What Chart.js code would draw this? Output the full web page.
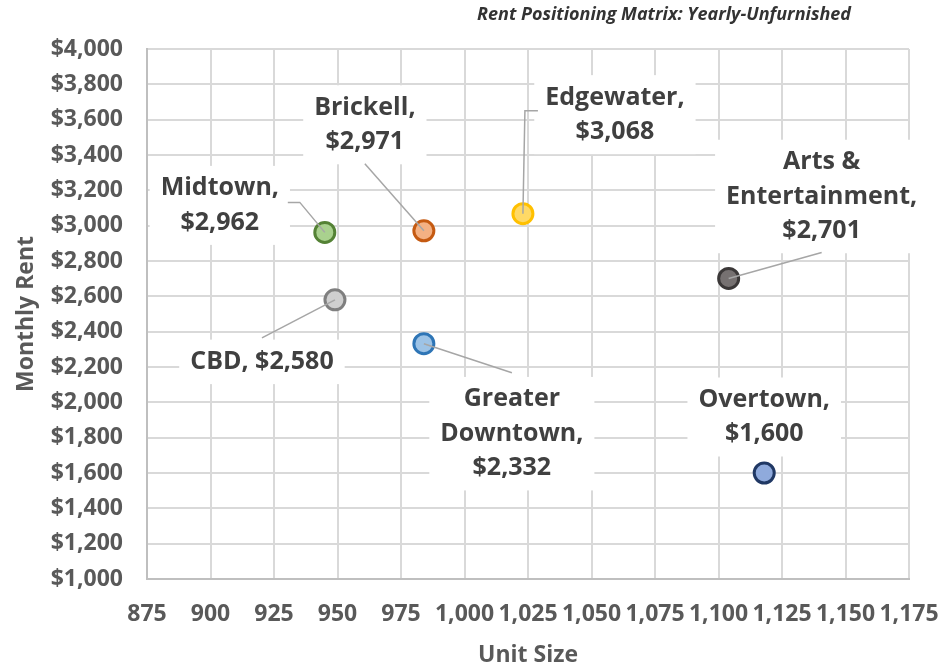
<!DOCTYPE html>
<html>
<head>
<meta charset="utf-8">
<script src="https://cdn.jsdelivr.net/npm/chart.js@4/dist/chart.umd.min.js"></script>
<style>
html, body { margin: 0; padding: 0; background: #fff; }
#wrap { width: 951px; height: 670px; }
</style>
</head>
<body>
<div id="wrap"><canvas id="myChart" width="951" height="670"></canvas></div>
<script>
const areas = ['Midtown', 'Brickell', 'Edgewater', 'CBD', 'Greater Downtown', 'Arts & Entertainment', 'Overtown'];
const unitSizes = [945, 984, 1023, 949, 984, 1104, 1118];
const rents = [2962, 2971, 3068, 2580, 2332, 2701, 1600];

const fillColors = ['#a9d18e', '#f4b183', '#ffd966', '#cfcfcf', '#9dc3e6', '#767171', '#8faadc'];
const borderColors = ['#548235', '#c55a11', '#ffc000', '#7f7f7f', '#2e75b6', '#3b3838', '#203864'];

// label placement, in pixels from the point; leader = path from label edge toward the point
const labelLayout = [
    { dx: -105, dy: -27, mode: 'stack', leader: [[-37, -30], [-25, -30]] },
    { dx: -59, dy: -106, mode: 'stack', leader: [[-59, -67]] },
    { dx: 92, dy: -99, mode: 'stack', leader: [[15, -103], [2, -103]] },
    { dx: -73, dy: 62, mode: 'inline', leader: [[-73, 38]] },
    { dx: 88, dy: 90, mode: 'stack3', leader: [[88, 29]] },
    { dx: 93, dy: -82, mode: 'stack3', leader: [[93, -26]] },
    { dx: 0, dy: -56, mode: 'stack', leader: null }
];

const money = v => '$' + v.toLocaleString('en-US');

function labelLines(i) {
    const name = areas[i];
    const value = money(rents[i]);
    const mode = labelLayout[i].mode;
    if (mode === 'inline') return [name + ', ' + value];
    if (mode === 'stack3') {
        const cut = name.lastIndexOf(' ');
        return [name.slice(0, cut), name.slice(cut + 1) + ',', value];
    }
    return [name + ',', value];
}

const pointLabels = {
    id: 'pointLabels',
    afterDatasetsDraw(chart) {
        const ctx = chart.ctx;
        const pts = chart.getDatasetMeta(0).data;
        const lineH = 34.5;
        ctx.save();
        ctx.font = 'bold 25px "Open Sans"';
        ctx.textAlign = 'center';
        ctx.textBaseline = 'middle';
        pts.forEach((pt, i) => {
            const lay = labelLayout[i];
            const lines = labelLines(i);
            const cx = pt.x + lay.dx;
            const cy = pt.y + lay.dy;
            const w = Math.max(...lines.map(l => ctx.measureText(l).width)) + 22;
            const h = lines.length * lineH + 10;
            ctx.fillStyle = '#ffffff';
            ctx.fillRect(cx - w / 2, cy - h / 2, w, h);
            ctx.fillStyle = '#404040';
            lines.forEach((l, k) => {
                ctx.fillText(l, cx, cy + (k - (lines.length - 1) / 2) * lineH);
            });
            if (lay.leader) {
                ctx.strokeStyle = '#a6a6a6';
                ctx.lineWidth = 1.5;
                ctx.beginPath();
                ctx.moveTo(pt.x + lay.leader[0][0], pt.y + lay.leader[0][1]);
                lay.leader.slice(1).forEach(p => ctx.lineTo(pt.x + p[0], pt.y + p[1]));
                ctx.lineTo(pt.x, pt.y);
                ctx.stroke();
            }
        });
        ctx.restore();
    }
};

const cornerTitle = {
    id: 'cornerTitle',
    afterDraw(chart) {
        const ctx = chart.ctx;
        ctx.save();
        ctx.font = 'italic bold 18px "Open Sans"';
        ctx.fillStyle = '#333333';
        ctx.textAlign = 'right';
        ctx.textBaseline = 'middle';
        ctx.fillText('Rent Positioning Matrix: Yearly-Unfurnished', 851, 15);
        ctx.restore();
    }
};

const data = {
    datasets: [{
        label: 'Rent',
        data: unitSizes.map((x, i) => ({ x: x, y: rents[i] })),
        backgroundColor: fillColors,
        borderColor: borderColors,
        borderWidth: 3,
        pointRadius: 10,
        pointHoverRadius: 10
    }]
};

const tickFont = { family: '"Open Sans"', size: 23, weight: 'bold' };
const titleFont = { family: '"Open Sans"', size: 23, weight: 'bold' };

const config = {
    type: 'scatter',
    data: data,
    plugins: [pointLabels, cornerTitle],
    options: {
        responsive: false,
        animation: false,
        events: [],
        layout: { padding: { top: 49, right: 42, bottom: 0, left: 0 } },
        plugins: {
            legend: { display: false },
            tooltip: { enabled: false }
        },
        scales: {
            x: {
                type: 'linear',
                min: 875,
                max: 1175,
                afterFit: s => {
                    s.height = 91;
                    s.paddingLeft = 0;
                    s.paddingRight = 0;
                },
                grid: { color: '#d9d9d9', lineWidth: 2, drawTicks: false },
                border: { color: '#bfbfbf', width: 2 },
                ticks: {
                    stepSize: 25,
                    padding: 22,
                    color: '#595959',
                    font: tickFont,
                    maxRotation: 0,
                    autoSkip: false,
                    callback: v => v.toLocaleString('en-US')
                },
                title: {
                    display: true,
                    text: 'Unit Size',
                    color: '#595959',
                    font: titleFont,
                    padding: { top: 0, bottom: 1 }
                }
            },
            y: {
                min: 1000,
                max: 4000,
                afterFit: s => {
                    s.width = 147;
                    s.paddingTop = 0;
                    s.paddingBottom = 0;
                },
                grid: { color: '#d9d9d9', lineWidth: 2, drawTicks: false },
                border: { color: '#bfbfbf', width: 2 },
                ticks: {
                    stepSize: 200,
                    padding: 24,
                    color: '#595959',
                    font: tickFont,
                    callback: v => money(v)
                },
                title: {
                    display: true,
                    text: 'Monthly Rent',
                    color: '#595959',
                    font: titleFont,
                    padding: { top: 13, bottom: 0 }
                }
            }
        }
    }
};

const myChart = new Chart(document.getElementById('myChart'), config);
</script>
</body>
</html>
